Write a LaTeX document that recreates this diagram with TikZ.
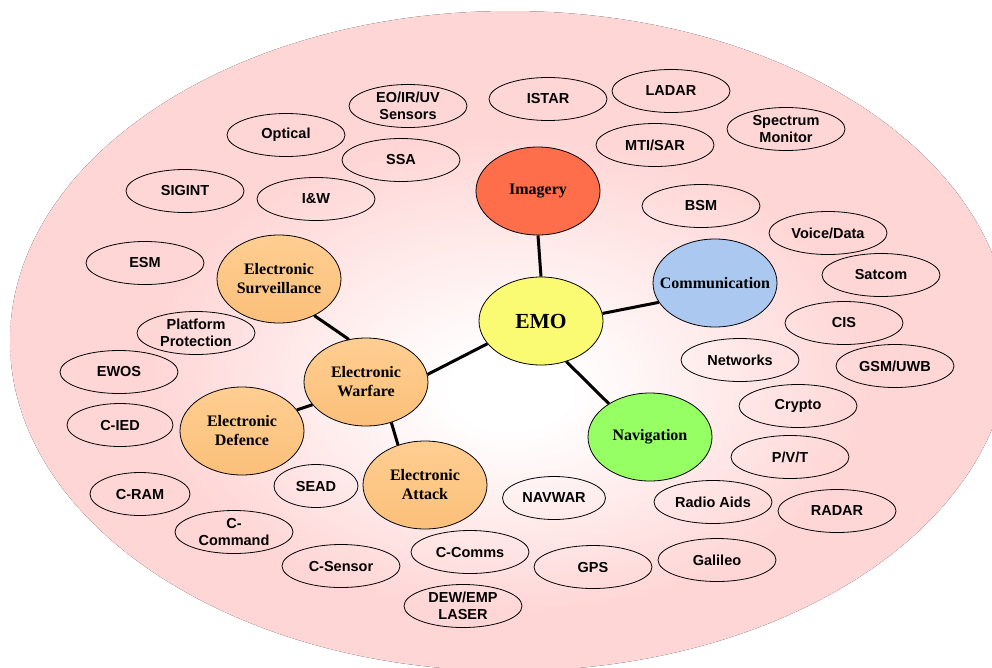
\documentclass[tikz,border=0pt]{standalone}
\usepackage{fontspec}
\setmainfont{Liberation Serif}
\setsansfont{Liberation Sans}
\usetikzlibrary{shapes.geometric}
\definecolor{bgpink}{RGB}{255,214,214}
\definecolor{imgc}{RGB}{255,110,75}
\definecolor{emoc}{RGB}{250,250,115}
\definecolor{comc}{RGB}{170,200,240}
\definecolor{navc}{RGB}{150,255,100}
\definecolor{orgtop}{RGB}{255,206,145}
\definecolor{orgbot}{RGB}{251,192,122}
\pgfdeclareradialshading{bgshade}{\pgfpoint{0bp}{-4bp}}{color(0bp)=(white); color(3bp)=(white); color(18bp)=(bgpink); color(50bp)=(bgpink)}
\tikzset{
  sm/.style={ellipse, draw=black, line width=0.8pt, minimum width=118pt, minimum height=43pt,
    inner sep=0pt, align=center, font=\sffamily\bfseries\fontsize{14.5}{17}\selectfont},
  mn/.style={ellipse, draw=black, line width=0.8pt, minimum width=124pt, minimum height=88pt,
    inner xsep=-14pt, inner ysep=0pt, align=center, font=\rmfamily\bfseries\fontsize{16}{19}\selectfont},
  org/.style={mn, top color=orgtop, bottom color=orgbot},
  link/.style={line width=3pt, black}
}
\begin{document}
\begin{tikzpicture}[x=1pt, y=-1pt]
\useasboundingbox (0,0) rectangle (992,667);
\begin{scope}
\clip (0,0) rectangle (992,667);
\fill[shading=bgshade] (510,341) ellipse [x radius=500pt, y radius=330pt];
\end{scope}

% small ellipses
\node[sm] (eoir) at (408,106) {EO/IR/UV\\Sensors};
\node[sm] (opt) at (286,135) {Optical};
\node[sm] (ssa) at (401,160) {SSA};
\node[sm] (sig) at (185,191) {SIGINT};
\node[sm] (iw) at (316,199) {I\&W};
\node[sm] (esm) at (145,263) {ESM};
\node[sm] (pp) at (196,333) {Platform\\Protection};
\node[sm] (istar) at (548,99) {ISTAR};
\node[sm] (ladar) at (671,91) {LADAR};
\node[sm] (spec) at (786,129) {Spectrum\\Monitor};
\node[sm] (mti) at (655,145) {MTI/SAR};
\node[sm] (bsm) at (701,206) {BSM};
\node[sm] (vd) at (828,233) {Voice/Data};
\node[sm] (sat) at (881,275) {Satcom};
\node[sm] (cis) at (844,323) {CIS};
\node[sm] (net) at (740,360) {Networks};
\node[sm] (gsm) at (895,366) {GSM/UWB};
\node[sm] (cry) at (798,406) {Crypto};
\node[sm] (pvt) at (790,457) {P/V/T};
\node[sm, minimum width=103pt] (navwar) at (554,498) {NAVWAR};
\node[sm] (ra) at (713,502) {Radio Aids};
\node[sm] (radar) at (837,511) {RADAR};
\node[sm] (gps) at (593,567) {GPS};
\node[sm] (gal) at (717,560) {Galileo};
\node[sm] (ewos) at (119,372) {EWOS};
\node[sm, minimum width=106pt] (cied) at (120,425) {C-IED};
\node[sm, minimum width=100pt] (cram) at (140,494) {C-RAM};
\node[sm, minimum width=84pt] (sead) at (316,486) {SEAD};
\node[sm] (ccmd) at (234,532) {C-\\Command};
\node[sm] (csen) at (341,566) {C-Sensor};
\node[sm] (ccom) at (470,552) {C-Comms};
\node[sm] (dew) at (463,606) {DEW/EMP\\LASER};

% main nodes
\node[mn, fill=imgc] (img) at (538,191) {Imagery};
\node[mn, fill=emoc, font=\rmfamily\bfseries\fontsize{21.5}{24}\selectfont] (emo) at (541,321) {EMO};
\node[mn, fill=comc] (com) at (715,283) {Communication};
\node[mn, fill=navc] (nav) at (650,437) {Navigation};
\node[org] (es) at (279,279) {Electronic\\Surveillance};
\node[org] (ew) at (366,382) {Electronic\\Warfare};
\node[org] (ed) at (242,431) {Electronic\\Defence};
\node[org] (ea) at (425,485) {Electronic\\Attack};

% connectors
\draw[link] (img.south) -- (emo.north);
\draw[link] (emo.7) -- (com.-161);
\draw[link] (emo.-58) -- (nav.141);
\draw[link] (ew.7) -- (emo.-157);
\draw[link] (es.-46) -- (ew.112);
\draw[link] (ew.-157) -- (ed.21);
\draw[link] (ew.-58) -- (ea.124);
\end{tikzpicture}
\end{document}
